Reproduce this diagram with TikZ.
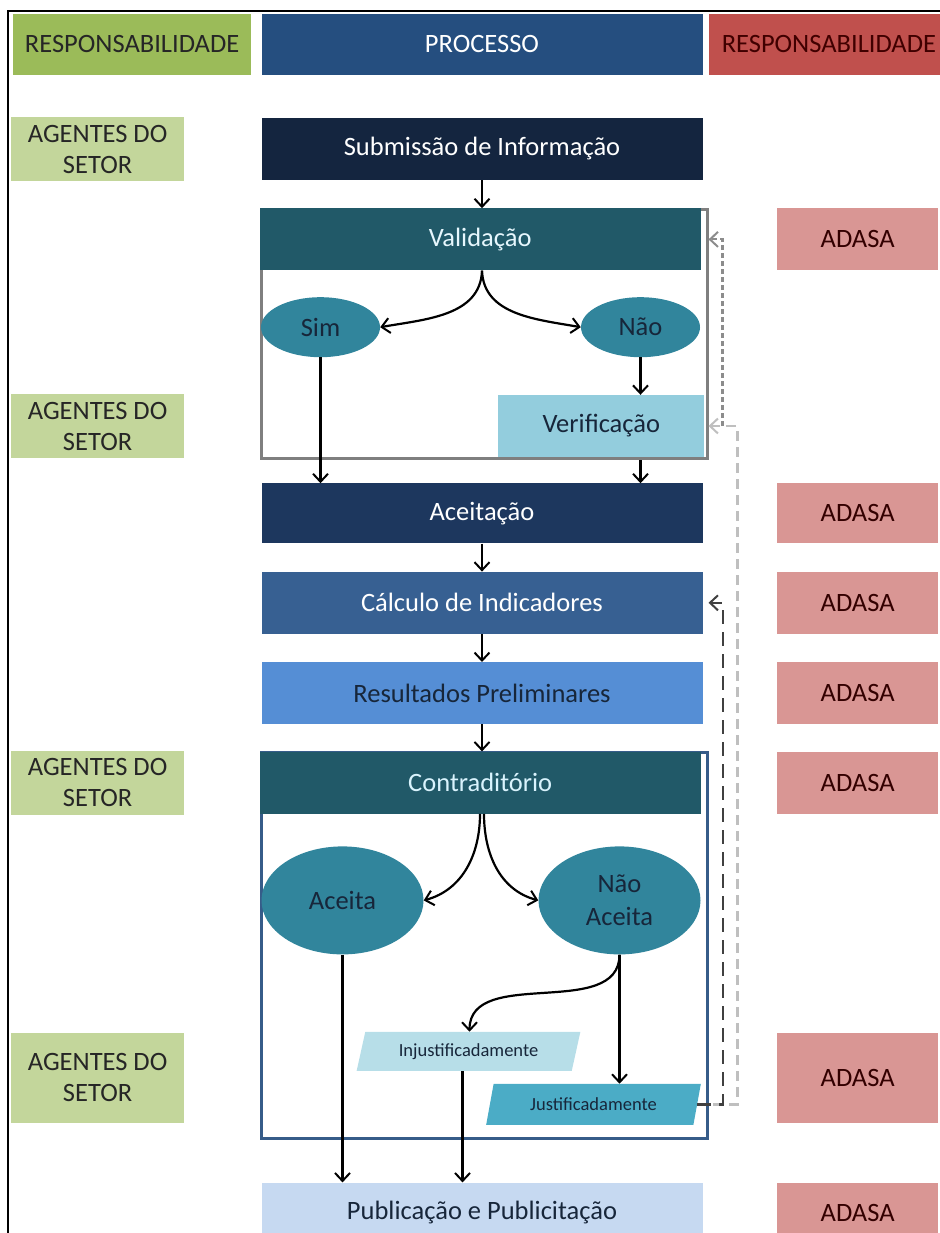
\documentclass[tikz,border=0pt]{standalone}
\usepackage{fontspec}
\setmainfont{Carlito}
\usetikzlibrary{shapes.geometric,positioning,arrows.meta}

\definecolor{hdrgreen}{HTML}{9BBB59}
\definecolor{agtgreen}{HTML}{C3D69B}
\definecolor{hdrblue}{HTML}{254E7F}
\definecolor{hdrred}{HTML}{C0504D}
\definecolor{adasared}{HTML}{D99694}
\definecolor{subnavy}{HTML}{14253F}
\definecolor{aceitnavy}{HTML}{1D375E}
\definecolor{hdrteal}{HTML}{215968}
\definecolor{ovalteal}{HTML}{31859C}
\definecolor{verlight}{HTML}{93CDDD}
\definecolor{calcblue}{HTML}{376092}
\definecolor{resblue}{HTML}{558ED5}
\definecolor{injlight}{HTML}{B7DEE8}
\definecolor{justteal}{HTML}{4BACC6}
\definecolor{publight}{HTML}{C6D9F1}
\definecolor{grpgray}{HTML}{7F7F7F}
\definecolor{grpblue}{HTML}{365C89}
\definecolor{darktxt}{HTML}{17263A}

\tikzset{
  procbox/.style={minimum width=441pt, minimum height=62pt, inner sep=0pt, font=\fontsize{26.5}{30}\selectfont},
  agtbox/.style={fill=agtgreen, text=black!85, minimum width=173pt, minimum height=64pt, inner sep=0pt, align=center, font=\fontsize{26.5}{31}\selectfont},
  adabox/.style={fill=adasared, text=black!80!red, minimum width=161pt, minimum height=62pt, inner sep=0pt, font=\fontsize{26.5}{30}\selectfont},
  grpbox/.style={line width=3pt, minimum width=446pt, inner sep=0pt},
  oval/.style={ellipse, fill=ovalteal, text=darktxt, inner sep=0pt, align=center, font=\fontsize{26.5}{33}\selectfont},
  slant/.style={trapezium, trapezium left angle=70, trapezium right angle=110, trapezium stretches=true, inner sep=0pt, text=darktxt, font=\fontsize{18.5}{20}\selectfont},
  tip/.style={-{Straight Barb[length=8pt,width=15pt,line width=2pt]}},
  arr/.style={tip, line width=2.2pt, black},
  blkdash/.style={tip, line width=2.2pt, black!75, dash pattern=on 14pt off 8pt},
  ltdash/.style={tip, line width=2.2pt, black!25, dash pattern=on 10pt off 6pt},
  gydash/.style={tip, line width=2.2pt, black!45, dash pattern=on 5pt off 3pt}
}

\begin{document}
\begin{tikzpicture}[x=1pt,y=-1pt]
\useasboundingbox (0,0) rectangle (939,1233);

\node [procbox, fill=subnavy, text=white] (sub) at (482,149) {Submissão de Informação};
\node [procbox, fill=hdrblue, text=white, minimum height=61pt, anchor=south] (hdrP) at ([yshift=43pt]sub.north) {PROCESSO};
\node [procbox, fill=hdrgreen, text=black!85, minimum width=238pt, minimum height=61pt, anchor=east] (hdrL) at ([xshift=-10pt]hdrP.west) {RESPONSABILIDADE};
\node [procbox, fill=hdrred, text=black!75!red, minimum width=240pt, minimum height=61pt, anchor=west] (hdrR) at ([xshift=6pt]hdrP.east) {RESPONSABILIDADE};

\node [grpbox, draw=grpgray, minimum height=249pt, anchor=north] (valgrp) at ([xshift=2pt,yshift=-28pt]sub.south) {};
\node [procbox, fill=hdrteal, text=white!90!cyan, anchor=north west] (valhdr) at (valgrp.north west) {Validação};
\node [oval, minimum width=119pt, minimum height=60pt] (sim) at ([xshift=61pt,yshift=-119pt]valgrp.north west) {Sim};
\node [oval, minimum width=119pt, minimum height=60pt] (nao) at ([xshift=320pt]sim) {Não};
\node [procbox, fill=verlight, text=darktxt, minimum width=206pt, anchor=south east] (ver) at ([xshift=-4pt,yshift=3pt]valgrp.south east) {Verificação};

\node [procbox, fill=aceitnavy, text=white, minimum height=60pt, anchor=north] (aceit) at ([xshift=-2pt,yshift=-23pt]valgrp.south) {Aceitação};
\node [procbox, fill=calcblue, text=white, anchor=north] (calc) at ([yshift=-28pt]aceit.south) {Cálculo de Indicadores};
\node [procbox, fill=resblue, text=darktxt, anchor=north] (res) at ([yshift=-28pt]calc.south) {Resultados Preliminares};

\node [grpbox, draw=grpblue, minimum height=386pt, anchor=north] (congrp) at ([xshift=2pt,yshift=-27pt]res.south) {};
\node [procbox, fill=hdrteal, text=white!85!cyan, anchor=north west] (conhdr) at (congrp.north west) {Contraditório};
\node [oval, minimum width=162pt, minimum height=108pt] (aceita) at ([xshift=83pt,yshift=-149pt]congrp.north west) {Aceita};
\node [oval, minimum width=162pt, minimum height=108pt] (naoac) at ([xshift=277pt]aceita) {Não\\Aceita};
\node [slant, fill=injlight, minimum width=224pt, minimum height=39pt] (injust) at ([xshift=209pt,yshift=-300pt]congrp.north west) {Injustificadamente};
\node [slant, fill=justteal, minimum width=215pt, minimum height=41pt] (just) at ([xshift=334pt,yshift=-353pt]congrp.north west) {Justificadamente};

\node [procbox, fill=publight, text=darktxt, minimum height=60pt, anchor=north] (pub) at ([xshift=-2pt,yshift=-42pt]congrp.south) {Publicação e Publicitação};

\node [agtbox, anchor=east] (ag1) at ([xshift=-77pt]sub.west) {AGENTES DO\\SETOR};
\node [agtbox] (ag2) at (ag1 |- ver) {AGENTES DO\\SETOR};
\node [agtbox] (ag3) at (ag1 |- conhdr) {AGENTES DO\\SETOR};
\node [agtbox, minimum height=90pt] (ag4) at ([yshift=-295pt]ag3) {AGENTES DO\\SETOR};

\node [adabox, anchor=west] (ad1) at ([xshift=76pt]valhdr.east) {ADASA};
\node [adabox, minimum height=60pt] (ad2) at (ad1 |- aceit) {ADASA};
\node [adabox] (ad3) at (ad1 |- calc) {ADASA};
\node [adabox] (ad4) at (ad1 |- res) {ADASA};
\node [adabox] (ad5) at (ad1 |- conhdr) {ADASA};
\node [adabox, minimum height=90pt] (ad6) at (ad1 |- ag4) {ADASA};
\node [adabox, minimum height=60pt] (ad7) at (ad1 |- pub) {ADASA};

\draw [arr] (sub) -- (valhdr.north -| sub);
\draw [arr] (valhdr.south -| sub) to[out=-92,in=10] (sim.east);
\draw [arr] (valhdr.south -| sub) to[out=-88,in=170] (nao.west);
\draw [arr] (sim.south) -- (sim.south |- aceit.north);
\draw [arr] (nao.south) -- (nao.south |- ver.north);
\draw [arr] (valgrp.south -| nao.south) -- (aceit.north -| nao.south);
\draw [arr] (aceit) -- (calc);
\draw [arr] (calc) -- (res);
\draw [arr] (res.south) -- (conhdr.north -| res.south);
\draw [arr] ([xshift=-2pt]conhdr.south -| res.south) to[out=-90,in=15] (aceita.east);
\draw [arr] ([xshift=2pt]conhdr.south -| res.south) to[out=-90,in=165] (naoac.west);
\draw [arr] (naoac.south) to[out=-90,in=90] ([xshift=1pt]injust.north);
\draw [arr] (naoac.south) -- (naoac.south |- just.north);
\draw [arr] (aceita.south) -- (aceita.south |- pub.north);
\draw [arr] ([xshift=-6pt]injust.south) -- ([xshift=-6pt]injust.south |- pub.north);

\draw [ltdash] (just.east) -| ([xshift=33pt]ver.east) -- (ver.east -| valgrp.east);
\draw [gydash] ([xshift=18pt]ver.east) |- (valhdr.east -| valgrp.east);
\draw [blkdash] (just.east) -| ([xshift=20pt]calc.east) -- (calc.east -| congrp.east);

\draw [line width=2pt] (8,1240) |- (945,11);
\end{tikzpicture}
\end{document}
